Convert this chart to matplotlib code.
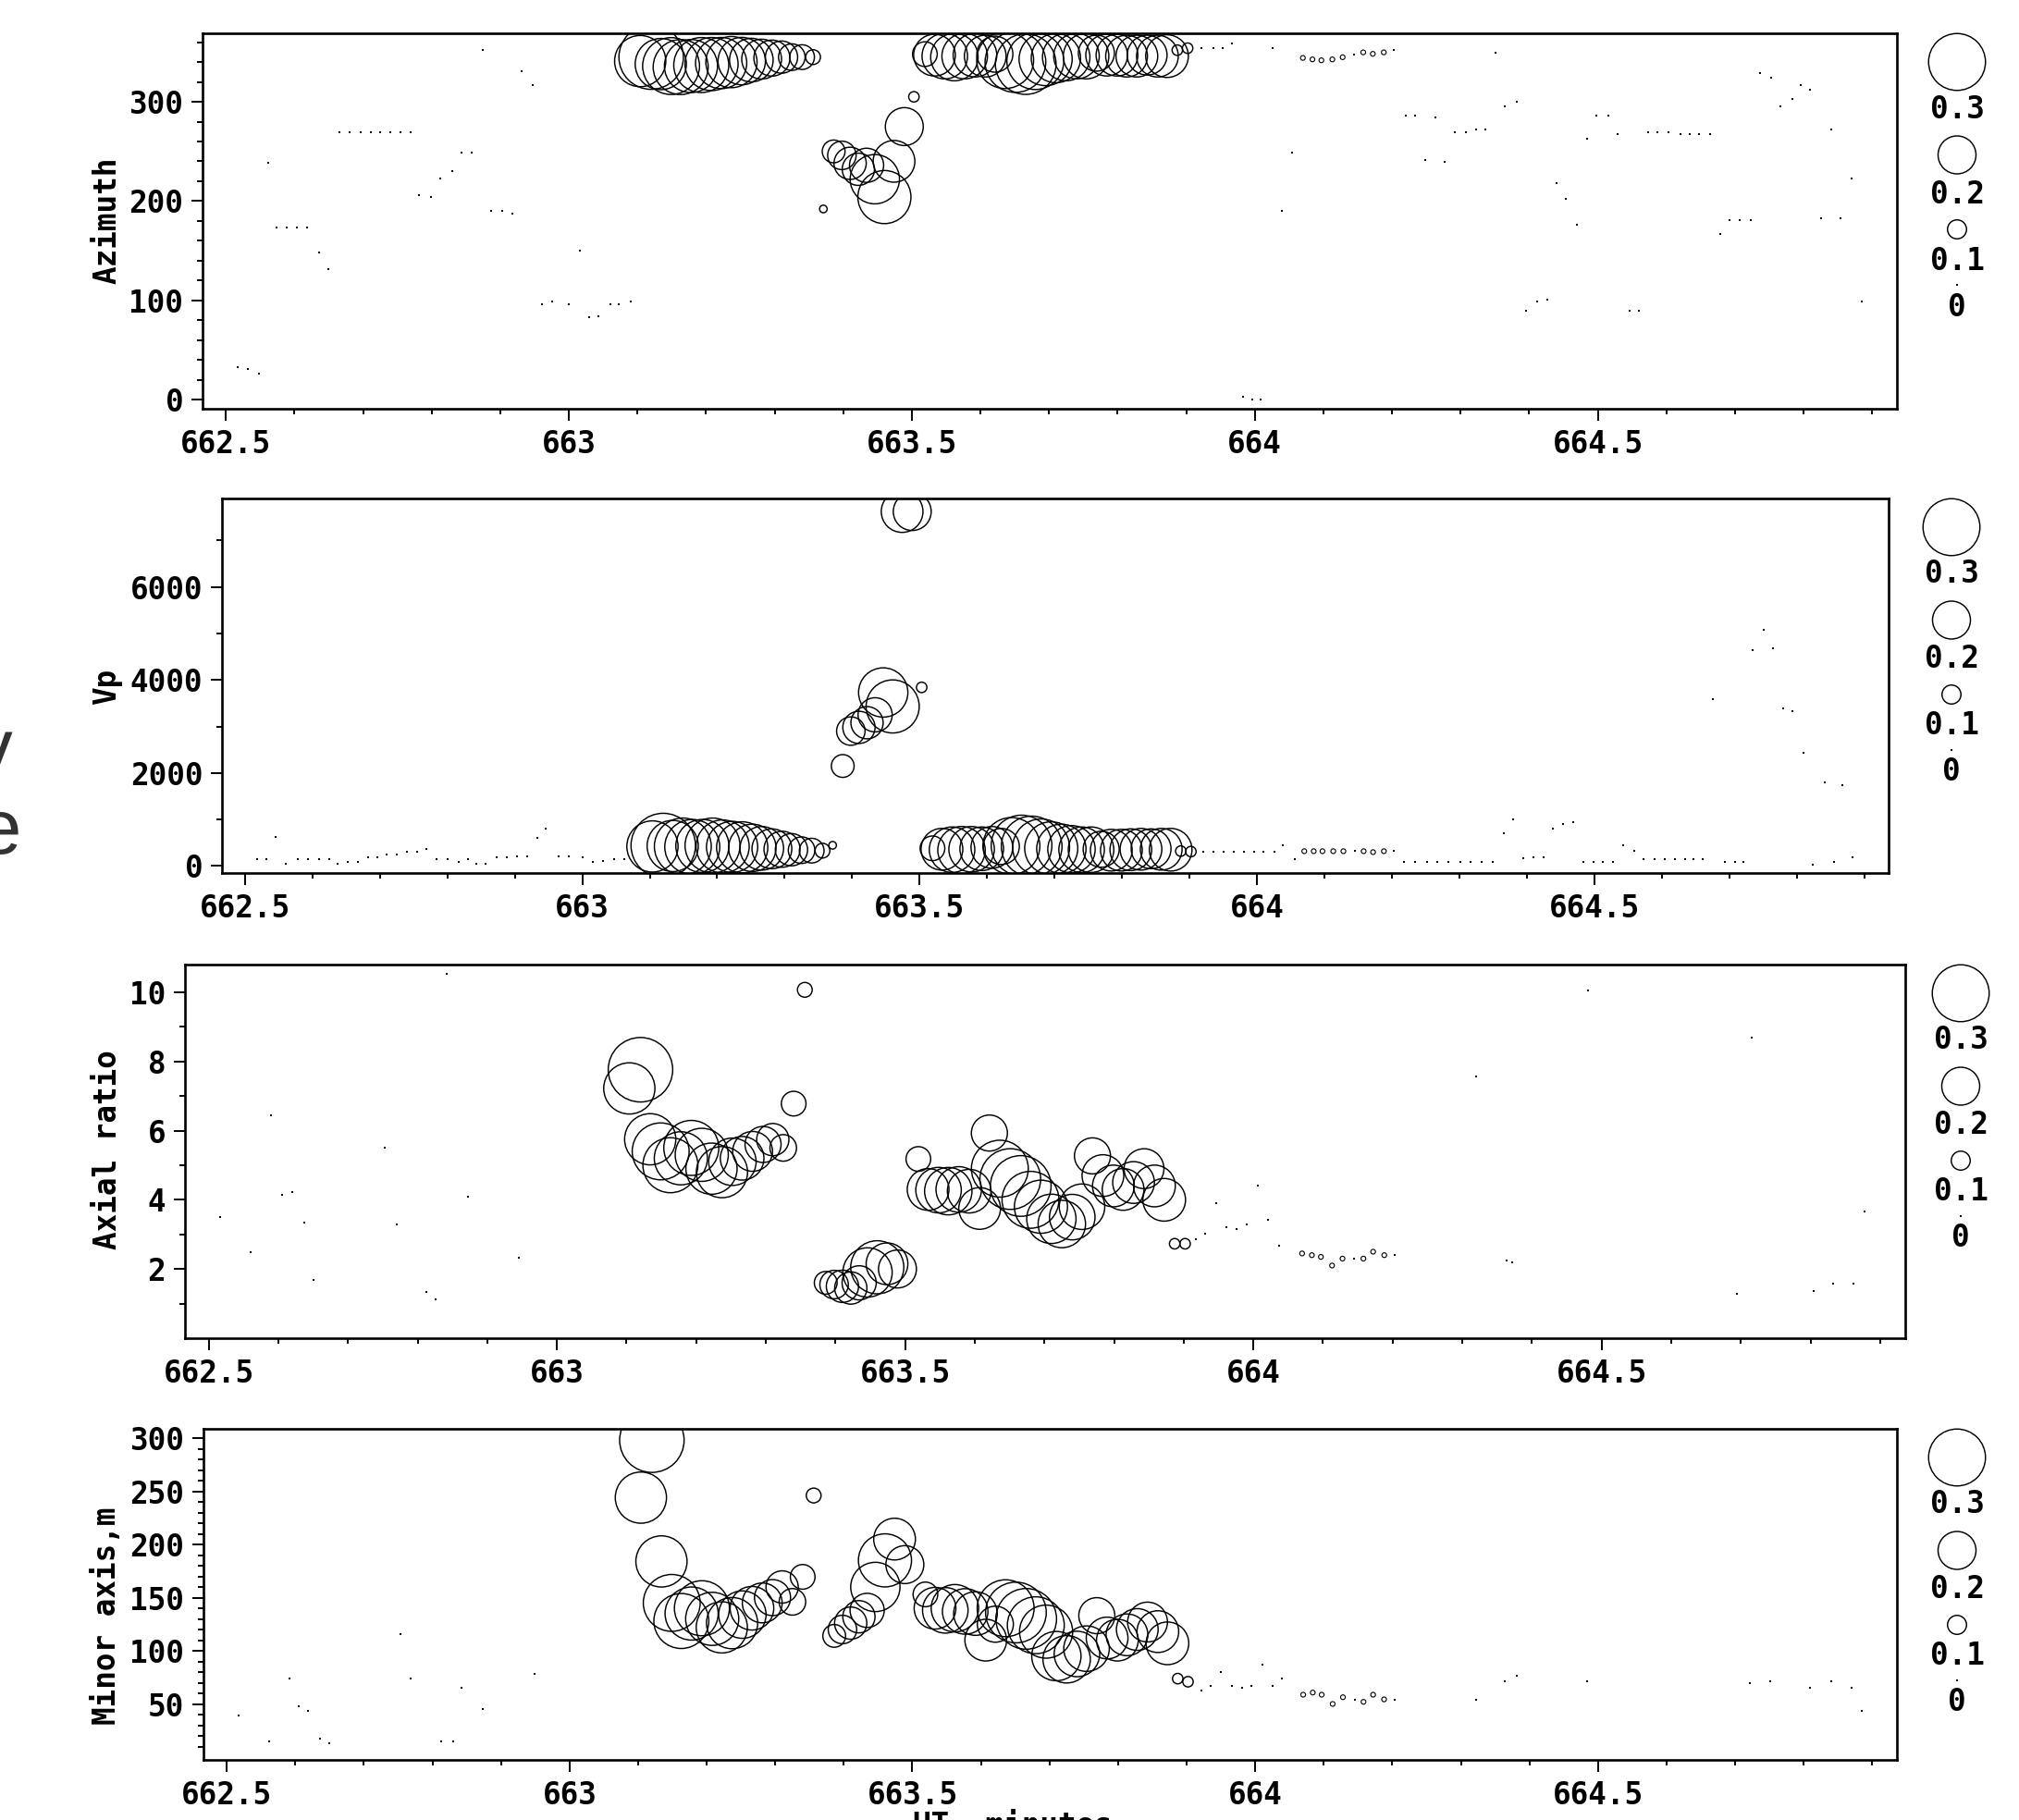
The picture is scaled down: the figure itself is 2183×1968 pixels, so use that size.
import numpy as np
import matplotlib
matplotlib.use("Agg")
import matplotlib.pyplot as plt
from matplotlib.ticker import MultipleLocator, FixedLocator, FuncFormatter

# === Data (time in UT minutes) ===
# bubble samples shared by the four panels, size = coherence-like value 0..0.3
bub_t = [663.104, 663.120, 663.134, 663.149, 663.163, 663.178, 663.193, 663.208, 663.222, 663.237,
         663.252, 663.266, 663.281, 663.296, 663.310, 663.325, 663.340, 663.356, 663.371,
         663.386, 663.398, 663.410, 663.422, 663.434, 663.446, 663.460, 663.474, 663.489, 663.503,
         663.519, 663.533, 663.548, 663.562, 663.577, 663.592, 663.607, 663.621, 663.636, 663.651,
         663.666, 663.680, 663.695, 663.710, 663.725, 663.740, 663.754, 663.769, 663.784, 663.799,
         663.813, 663.828, 663.843, 663.858, 663.872, 663.887, 663.902]
bub_s = [0.27, 0.34, 0.27, 0.30, 0.29, 0.28, 0.29, 0.28, 0.27, 0.27,
         0.25, 0.23, 0.21, 0.19, 0.17, 0.14, 0.13, 0.078, 0.04,
         0.12, 0.15, 0.17, 0.17, 0.18, 0.26, 0.28, 0.22, 0.20, 0.055,
         0.13, 0.22, 0.24, 0.25, 0.24, 0.23, 0.22, 0.19, 0.30, 0.32,
         0.32, 0.30, 0.28, 0.26, 0.25, 0.24, 0.24, 0.19, 0.22, 0.22,
         0.22, 0.22, 0.21, 0.22, 0.225, 0.055, 0.055]
nan = float("nan")
az_bub = [341, 345, 338, 336, 335, 336, 337, 338, 339, 340,
          341, 342, 343, 344, 345, 345, 345, 345, 192,
          250, 246, 238, 232, 236, 222, 204, 240, 275, 305,
          348, 347, 346, 345, 346, 347, 346, 348, 342, 340,
          338, 341, 343, 344, 345, 346, 346, 349, 347, 347,
          346, 346, 347, 346, 346, 352, 354]
vp_bub = [420, 440, 430, 420, 410, 430, 440, 420, 410, 400,
          390, 380, 370, 360, 350, 340, 330, 330, 445,
          2150, 2900, 2980, 3080, 3250, 3730, 3430, 7620, 7620, 3840,
          380, 360, 350, 340, 360, 370, 400, 420, 430, 440,
          420, 400, 380, 370, 360, 350, 350, 360, 340, 340,
          350, 360, 370, 360, 350, 320, 310]
ar_bub = [7.22, 7.76, 5.75, 5.4, 5.0, 5.2, 5.5, 5.3, 4.9, 4.8,
          5.1, 5.2, 5.4, 5.6, 5.74, 5.5, 6.78, 10.07, nan,
          1.6, 1.55, 1.5, 1.45, 1.6, 1.9, 2.05, 2.15, 2.0, nan,
          5.18, 4.30, 4.28, 4.25, 4.30, 4.25, 3.75, 5.93, 4.9, 4.6,
          4.4, 4.0, 3.8, 3.45, 3.3, 3.5, 3.8, 5.27, 4.7, 4.4,
          4.3, 4.5, 4.9, 4.4, 4.0, 2.73, 2.73]
mn_bub = [244, 298, 184, 145, 128, 135, 140, 130, 122, 126,
          134, 140, 145, 150, 160, 146, 169.5, 246, nan,
          114, 120, 126, 132, 138, 160, 185, 205, 181, nan,
          153, 140, 138, 140, 137, 135, 110, 125, 140, 136,
          130, 124, 118, 95, 92, 97, 102, 133, 112, 110,
          115, 120, 127, 118, 107, 73.8, 70.9]

# tiny circles (diamond-looking) just after the main bubbles
dia_t = [664.070, 664.084, 664.097, 664.113, 664.128, 664.158, 664.172, 664.188]
dia_s = 0.025
az_dia = [344.2, 342.7, 341.8, 342.7, 344.9, 349.8, 348.3, 349.8]
vp_dia = [318, 318, 318, 318, 318, 318, 298, 318]
ar_dia = [2.45, 2.4, 2.35, 2.1, 2.3, 2.3, 2.5, 2.4]
mn_dia = [58.7, 60.7, 58.7, 50, 56.3, 52, 58.7, 54.3]

# zero-size points (drawn as dots), (time, value)
az_dots = [(662.517, 33), (662.532, 30.5), (662.548, 26), (662.562, 239), (662.574, 173), (662.589, 173),
           (662.604, 173), (662.619, 173), (662.636, 148), (662.650, 131), (662.666, 269.5), (662.681, 269.5),
           (662.696, 269.5), (662.711, 269.5), (662.725, 269.5), (662.740, 269.5), (662.754, 269.5),
           (662.770, 269.5), (662.782, 206), (662.799, 204), (662.813, 223), (662.830, 230), (662.844, 249),
           (662.858, 249), (662.874, 352), (662.887, 190), (662.903, 190), (662.918, 187.5), (662.931, 331),
           (662.948, 316.6), (662.961, 96.4), (662.976, 98.6), (663.000, 96.4), (663.016, 150), (663.029, 82.5),
           (663.043, 84.3), (663.060, 96.4), (663.073, 96.4), (663.090, 98.6),
           (663.922, 354.5), (663.939, 354.5), (663.953, 354.5), (663.967, 359), (663.983, 2.5), (663.996, 0),
           (664.009, 0), (664.026, 354.5), (664.039, 190.3), (664.054, 248.8), (664.145, 347.3), (664.203, 352),
           (664.220, 286), (664.234, 286), (664.248, 241.6), (664.263, 284.2), (664.277, 239.5), (664.291, 269.6),
           (664.308, 269.6), (664.322, 272), (664.336, 272), (664.351, 349.8), (664.364, 295.4), (664.382, 300.1),
           (664.395, 89.3), (664.411, 98.6), (664.426, 101.1), (664.440, 218.3), (664.453, 201.8), (664.470, 175.7),
           (664.484, 262.8), (664.498, 286.1), (664.515, 286.1), (664.529, 267.4), (664.546, 89.3), (664.560, 89.3),
           (664.573, 269.6), (664.587, 269.6), (664.603, 269.6), (664.620, 267.4), (664.634, 267.4), (664.648, 267.4),
           (664.664, 267.4), (664.678, 166.4), (664.692, 180.4), (664.707, 180.4), (664.723, 180.4), (664.736, 328.7),
           (664.752, 324), (664.766, 295.4), (664.783, 302.6), (664.796, 316.9), (664.809, 311.9), (664.826, 182.9),
           (664.840, 272.1), (664.854, 182.9), (664.870, 223), (664.885, 98.6)]
vp_dots = [(662.518, 147), (662.532, 147), (662.546, 630), (662.560, 47), (662.579, 147), (662.594, 147),
           (662.610, 147), (662.625, 147), (662.637, 47), (662.652, 80), (662.668, 80), (662.682, 179),
           (662.696, 179), (662.710, 245), (662.725, 245), (662.740, 298), (662.755, 298), (662.769, 364),
           (662.784, 147), (662.800, 147), (662.817, 80), (662.830, 147), (662.843, 47), (662.857, 47),
           (662.873, 179), (662.888, 179), (662.903, 199), (662.919, 199), (662.933, 596), (662.946, 795),
           (662.965, 199), (662.980, 199), (663.001, 179), (663.016, 80), (663.031, 113), (663.047, 147),
           (663.062, 147),
           (663.920, 298), (663.936, 298), (663.950, 298), (663.965, 298), (663.980, 298), (663.996, 298),
           (664.010, 298), (664.026, 298), (664.038, 443), (664.056, 145), (664.145, 318), (664.203, 318),
           (664.218, 87), (664.234, 87), (664.252, 87), (664.267, 87), (664.284, 87), (664.301, 87),
           (664.317, 87), (664.333, 87), (664.350, 87), (664.366, 699), (664.380, 994), (664.394, 167),
           (664.410, 186), (664.425, 186), (664.439, 795), (664.454, 895), (664.468, 948), (664.484, 87),
           (664.499, 87), (664.513, 87), (664.527, 87), (664.543, 444), (664.559, 318), (664.573, 146),
           (664.589, 146), (664.604, 146), (664.619, 146), (664.634, 146), (664.647, 146), (664.661, 146),
           (664.676, 3578), (664.694, 87), (664.708, 87), (664.721, 87), (664.735, 4640), (664.751, 5085),
           (664.765, 4681), (664.780, 3380), (664.794, 3334), (664.810, 2434), (664.824, 36), (664.841, 1789),
           (664.855, 87), (664.868, 1736), (664.883, 186)]
ar_dots = [(662.516, 3.49), (662.560, 2.48), (662.590, 6.44), (662.606, 4.15), (662.620, 4.22), (662.637, 3.34),
           (662.650, 1.68), (662.753, 5.51), (662.770, 3.28), (662.813, 1.33), (662.826, 1.13), (662.842, 10.53),
           (662.872, 4.08), (662.946, 2.33),
           (663.918, 2.86), (663.931, 3.02), (663.947, 3.89), (663.961, 3.2), (663.976, 3.15), (663.991, 3.29),
           (664.007, 4.42), (664.021, 3.42), (664.037, 2.67), (664.145, 2.3), (664.203, 2.4), (664.320, 7.57),
           (664.363, 2.25), (664.372, 2.2), (664.480, 10.06), (664.694, 1.29), (664.716, 8.68), (664.805, 1.36),
           (664.832, 1.59), (664.862, 1.59), (664.878, 3.67)]
mn_dots = [(662.517, 38.9), (662.562, 14.9), (662.592, 74.0), (662.605, 47.6), (662.619, 43.3), (662.636, 17.2),
           (662.650, 12.8), (662.754, 115.5), (662.768, 74.0), (662.813, 14.9), (662.830, 14.9), (662.843, 65.0),
           (662.874, 45.3), (662.949, 78.1),
           (663.921, 63.0), (663.935, 67.1), (663.950, 80.4), (663.966, 67.1), (663.981, 65.0), (663.995, 67.1),
           (664.010, 86.8), (664.026, 67.1), (664.039, 73.7), (664.145, 54.3), (664.203, 54.3), (664.322, 54.3),
           (664.364, 71.7), (664.382, 76.1), (664.484, 71.7), (664.722, 69.4), (664.751, 71.7), (664.809, 65.0),
           (664.840, 71.7), (664.870, 65.0), (664.885, 43.3)]

x_ticks = [662.5, 663, 663.5, 664, 664.5]
legend_vals = [0.3, 0.2, 0.1, 0]

# === Figure setup ===
W, H, DPI = 2183, 1968, 100
MONO = "DejaVu Sans Mono"
FS = 23.5
LW = 1.05
fig = plt.figure(figsize=(W / DPI, H / DPI), dpi=DPI)


def px_axes(left, top, right, bottom):
    return fig.add_axes([left / W, 1 - bottom / H, (right - left) / W, (bottom - top) / H])


def msize(s):
    # marker diameter in pixels is about 205 * value
    return (205 * np.asarray(s, dtype=float) * 72 / DPI) ** 2


def style(ax, ylim, major, minor, ylabel_y, label):
    ax.set_xlim(662.466, 664.936)
    ax.set_ylim(*ylim)
    ax.xaxis.set_major_locator(FixedLocator(x_ticks))
    ax.xaxis.set_minor_locator(MultipleLocator(0.1))
    ax.xaxis.set_major_formatter(FuncFormatter(lambda v, p: "%g" % v))
    ax.yaxis.set_major_locator(FixedLocator(major))
    ax.yaxis.set_minor_locator(FixedLocator(minor))
    ax.yaxis.set_major_formatter(FuncFormatter(lambda v, p: "%g" % v))
    ax.tick_params(which="major", direction="out", length=9, width=1.4, labelsize=FS, pad=6)
    ax.tick_params(which="minor", direction="out", length=4.5, width=1.4)
    ax.tick_params(axis="x", which="major", pad=7)
    for lab in ax.get_xticklabels() + ax.get_yticklabels():
        lab.set_fontfamily(MONO)
        lab.set_fontweight("bold")
    for sp in ax.spines.values():
        sp.set_linewidth(1.9)
    fig.text(116 / W, 1 - ylabel_y / H, label, rotation=90, ha="center", va="center",
             fontsize=FS, fontweight="bold", family=MONO)


def draw(ax, bub_v, dia_v, dots):
    t = np.array(bub_t)
    v = np.array(bub_v, dtype=float)
    ok = ~np.isnan(v)
    ax.scatter(t[ok], v[ok], s=msize(np.array(bub_s)[ok]), facecolors="none",
               edgecolors="black", linewidths=LW)
    ax.scatter(dia_t, dia_v, s=msize([dia_s] * len(dia_t)), facecolors="none",
               edgecolors="black", linewidths=0.8)
    dt, dv = zip(*dots)
    ax.scatter(dt, dv, s=3.0, marker="s", color="black", linewidths=0)


def legend(cx, top):
    lax = px_axes(cx - 60, top, cx + 60, top + 320)
    lax.set_xlim(-60, 60)
    lax.set_ylim(320, 0)
    lax.axis("off")
    circ_y = [31, 131.5, 212, 272]
    lab_y = [82, 174, 246, 296]
    for val, cy, ly in zip(legend_vals, circ_y, lab_y):
        if val > 0:
            lax.scatter([0], [cy], s=msize(val), facecolors="none", edgecolors="black",
                        linewidths=LW, clip_on=False)
        else:
            lax.scatter([0], [cy], s=3.0, marker="s", color="black", linewidths=0, clip_on=False)
        lax.text(0, ly, "%g" % val, ha="center", va="center", fontsize=FS,
                 fontweight="bold", family=MONO)


# === Panel 1: Azimuth ===
ax1 = px_axes(219, 36, 2051, 442)
style(ax1, (-9.3, 369), [0, 100, 200, 300], np.arange(0, 361, 20), 238, "Azimuth")
draw(ax1, az_bub, az_dia, az_dots)
legend(2116, 36)

# === Panel 2: Vp ===
ax2 = px_axes(240, 539, 2042, 944)
style(ax2, (-151, 7901), [0, 2000, 4000, 6000], np.arange(0, 7001, 1000), 742, "Vp")
draw(ax2, vp_bub, vp_dia, vp_dots)
legend(2110, 539)

# === Panel 3: Axial ratio ===
ax3 = px_axes(200, 1043, 2060, 1447)
style(ax3, (0.0, 10.8), [2, 4, 6, 8, 10], np.arange(1, 11, 1), 1243, "Axial ratio")
draw(ax3, ar_bub, ar_dia, ar_dots)
legend(2120, 1043)

# === Panel 4: Minor axis ===
ax4 = px_axes(220, 1545, 2051, 1903)
style(ax4, (-2.6, 308.7), [50, 100, 150, 200, 250, 300], np.arange(10, 301, 10), 1747, "Minor axis,m")
draw(ax4, mn_bub, mn_dia, mn_dots)
legend(2116, 1545)

# x label, cut by the bottom edge of the image as in the source
fig.text(1095 / W, 1 - 1958 / H, "UT, minutes", ha="center", va="top", fontsize=FS,
         fontweight="bold", family=MONO)

# fragments of text cut by the left edge as in the source
fig.text(14 / W, 1 - 836 / H, "y", ha="right", va="baseline", fontsize=60,
         family="Liberation Sans", color="#333333")
fig.text(23 / W, 1 - 923 / H, "e", ha="right", va="baseline", fontsize=60,
         family="Liberation Sans", color="#333333")

fig.savefig("out.png", dpi=DPI)
